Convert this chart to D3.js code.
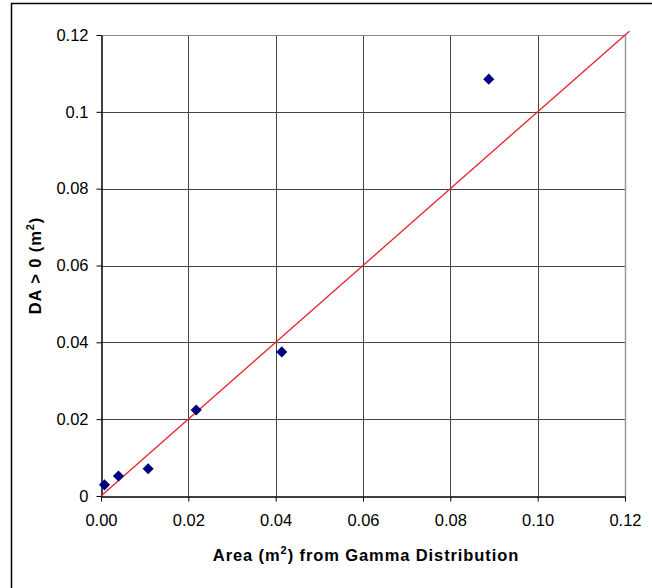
<!DOCTYPE html>
<html>
<head>
<meta charset="utf-8">
<script src="https://cdn.jsdelivr.net/npm/d3@7"></script>
<style>
  body { margin: 0; background: #fff; }
  svg { display: block; font-family: "Liberation Sans", Arial, sans-serif; }
</style>
</head>
<body>
<script>
// data
var areaGamma = [0.0008, 0.0040, 0.0108, 0.0218, 0.0414, 0.0888];
var daPositive = [0.0029, 0.0052, 0.0071, 0.0224, 0.0375, 0.1085];
var lineX = [0, 0.121];
var xTicks = [0, 0.02, 0.04, 0.06, 0.08, 0.10, 0.12];
var yTicks = [0, 0.02, 0.04, 0.06, 0.08, 0.1, 0.12];

var width = 652;
var height = 588;
var plotLeft = 101, plotRight = 625, plotTop = 35, plotBottom = 496;

var svg = d3.select('body').append('svg')
  .attr('width', width)
  .attr('height', height);

// chart frame
svg.append('rect')
  .attr('x', 11.5)
  .attr('y', 3.5)
  .attr('width', 700)
  .attr('height', 700)
  .attr('fill', 'none')
  .attr('stroke', '#000')
  .attr('stroke-width', 1.5);

var x = d3.scaleLinear().domain([0, 0.12]).range([plotLeft, plotRight]);
var y = d3.scaleLinear().domain([0, 0.12]).range([plotBottom, plotTop]);

// gridlines
svg.append('g')
  .selectAll('line')
  .data(xTicks.slice(1, -1))
  .join('line')
  .attr('x1', d => Math.round(x(d)) + 0.5)
  .attr('x2', d => Math.round(x(d)) + 0.5)
  .attr('y1', plotTop)
  .attr('y2', plotBottom)
  .attr('stroke', '#444');

svg.append('g')
  .selectAll('line')
  .data(yTicks.slice(1, -1))
  .join('line')
  .attr('x1', plotLeft)
  .attr('x2', plotRight)
  .attr('y1', d => Math.round(y(d)) + 0.5)
  .attr('y2', d => Math.round(y(d)) + 0.5)
  .attr('stroke', '#444');

// plot area border (top / right lighter)
svg.append('line')
  .attr('x1', plotLeft).attr('x2', plotRight)
  .attr('y1', plotTop + 0.5).attr('y2', plotTop + 0.5)
  .attr('stroke', '#888');
svg.append('line')
  .attr('x1', plotRight + 0.5).attr('x2', plotRight + 0.5)
  .attr('y1', plotTop).attr('y2', plotBottom)
  .attr('stroke', '#999')
  .attr('stroke-width', 1.5);

// axes
var xAxis = d3.axisBottom(x)
  .tickValues(xTicks)
  .tickFormat(d3.format('.2f'))
  .tickSizeOuter(0)
  .tickSizeInner(5)
  .tickPadding(13);

var yAxis = d3.axisLeft(y)
  .tickValues(yTicks)
  .tickFormat(d => d === 0 ? '0' : String(+d.toFixed(2)))
  .tickSizeOuter(0)
  .tickSizeInner(5)
  .tickPadding(8);

var gx = svg.append('g')
  .attr('transform', 'translate(0,' + (plotBottom + 0.5) + ')')
  .call(xAxis);
var gy = svg.append('g')
  .attr('transform', 'translate(' + (plotLeft + 0.5) + ',0)')
  .call(yAxis);

[gx, gy].forEach(function(g) {
  g.attr('font-size', 16.5).attr('font-family', '"Liberation Sans", Arial, sans-serif');
  g.selectAll('path').attr('stroke', '#000').attr('stroke-width', 1.5);
  g.selectAll('line').attr('stroke', '#000');
  g.selectAll('text').attr('fill', '#000');
});

// y = x reference line
var line = d3.line()
  .x(d => x(d))
  .y(d => y(d));

svg.append('path')
  .datum(lineX)
  .attr('d', line)
  .attr('fill', 'none')
  .attr('stroke', '#e8202a')
  .attr('stroke-width', 1.3);

// data points
var diamond = d3.symbol().type(d3.symbolSquare).size(62);

svg.append('g')
  .selectAll('path')
  .data(areaGamma)
  .join('path')
  .attr('d', diamond)
  .attr('transform', (d, i) => 'translate(' + x(d) + ',' + y(daPositive[i]) + ') rotate(45)')
  .attr('fill', '#000080');

// axis titles
var xTitle = svg.append('text')
  .attr('x', 366)
  .attr('y', 561)
  .attr('text-anchor', 'middle')
  .attr('font-size', 16.5)
  .attr('letter-spacing', 0.9)
  .attr('font-weight', 'bold');
xTitle.append('tspan').text('Area (m');
xTitle.append('tspan').attr('font-size', 11).attr('dy', -7).text('2');
xTitle.append('tspan').attr('dy', 7).text(') from Gamma Distribution');

var yTitle = svg.append('text')
  .attr('transform', 'translate(41,' + ((plotTop + plotBottom) / 2) + ') rotate(-90)')
  .attr('text-anchor', 'middle')
  .attr('font-size', 16.5)
  .attr('letter-spacing', 0.9)
  .attr('font-weight', 'bold');
yTitle.append('tspan').text('DA > 0 (m');
yTitle.append('tspan').attr('font-size', 11).attr('dy', -7).text('2');
yTitle.append('tspan').attr('dy', 7).text(')');
</script>
</body>
</html>
